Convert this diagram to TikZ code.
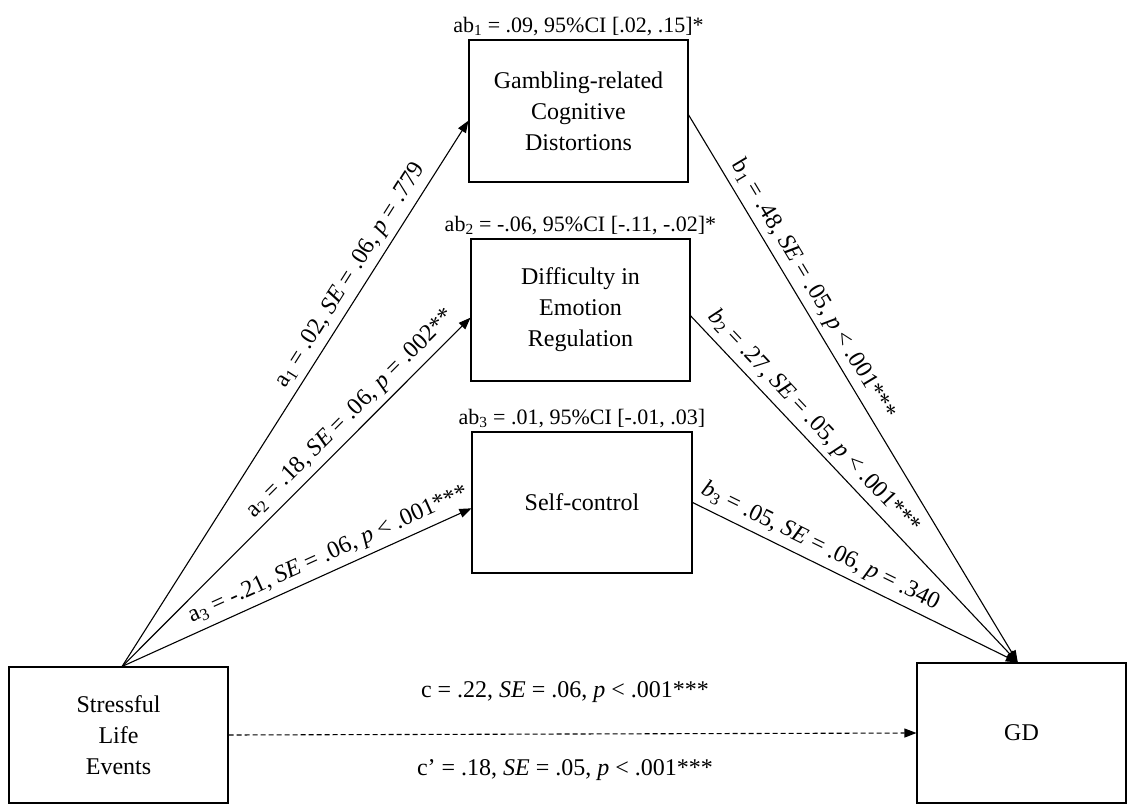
\documentclass[tikz,border=0pt]{standalone}
\usepackage{fontspec}
\setmainfont{Liberation Serif}
\usetikzlibrary{arrows.meta}
\begin{document}
\begin{tikzpicture}[x=1pt,y=-1pt,line width=1.1pt,
  box/.style={draw,align=center,font=\fontsize{24}{31}\selectfont},
  lbl/.style={font=\fontsize{22}{26}\selectfont},
  plbl/.style={font=\fontsize{24}{28}\selectfont,above=2pt,sloped},
  >={Triangle[length=12pt,width=9pt]}]
  \useasboundingbox (0,0) rectangle (1128,805);
  % boxes
  \node[box,minimum width=219pt,minimum height=142pt] (med1) at (578.5,111) {Gambling-related\\Cognitive\\Distortions};
  \node[box,minimum width=219pt,minimum height=142pt] (med2) at (580.5,310) {Difficulty in\\Emotion\\Regulation};
  \node[box,minimum width=220pt,minimum height=141pt] (med3) at (582,502.5) {Self-control};
  \node[box,minimum width=219pt,minimum height=136pt] (sle) at (118.5,735) {Stressful\\Life\\Events};
  \node[box,minimum width=209pt,minimum height=140pt] (gd) at (1021.5,733) {GD};
  % indirect effects
  \node[lbl,above] at (med1.north) {ab\textsubscript{1} = .09, 95\%CI [.02, .15]*};
  \node[lbl,above] at (med2.north) {ab\textsubscript{2} = -.06, 95\%CI [-.11, -.02]*};
  \node[lbl,above] at (med3.north) {ab\textsubscript{3} = .01, 95\%CI [-.01, .03]};
  % a paths
  \draw[->] (sle.87) -- (med1.185) node[plbl,pos=0.7] {a\textsubscript{1} = .02, \textit{SE} = .06, \textit{p} = .779};
  \draw[->] (sle.87) -- (med2.184) node[plbl,pos=0.69] {a\textsubscript{2} = .18, \textit{SE} = .06, \textit{p} = .002**};
  \draw[->] (sle.87) -- (med3.183) node[plbl,pos=0.61] {a\textsubscript{3} = -.21, \textit{SE} = .06, \textit{p} < .001***};
  % b paths
  \draw[->] (med1.358) -- (gd.93) node[plbl,pos=0.335] {b\textsubscript{1} = .48, \textit{SE} = .05, \textit{p} < .001***};
  \draw[->] (med2.357) -- (gd.93) node[plbl,pos=0.34] {\textit{b}\textsubscript{2} = .27, \textit{SE} = .05, \textit{p} < .001***};
  \draw[->] (med3.east) -- (gd.93) node[plbl,pos=0.37] {\textit{b}\textsubscript{3} = .05, \textit{SE} = .06, \textit{p} = .340};
  % direct and total effect
  \draw[->,dash pattern=on 5pt off 3pt] (sle.east) -- (gd.west);
  \node[font=\fontsize{24}{28}\selectfont] (ctot) at (565,692) {c = .22, \textit{SE} = .06, \textit{p} < .001***};
  \node[font=\fontsize{24}{28}\selectfont] (cdir) at (565,770) {c' = .18, \textit{SE} = .05, \textit{p} < .001***};
\end{tikzpicture}
\end{document}
